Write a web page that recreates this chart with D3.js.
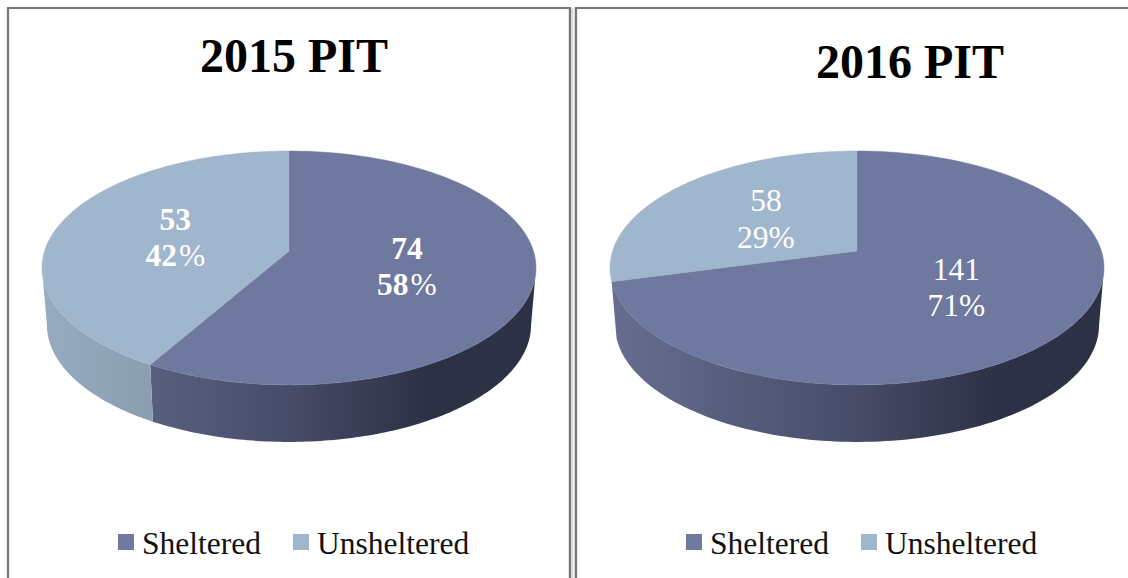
<!DOCTYPE html>
<html>
<head>
<meta charset="utf-8">
<script src="https://cdn.jsdelivr.net/npm/d3@7"></script>
<style>
  html, body { margin: 0; background: #fff; }
  svg { display: block; }
  text { font-family: "Liberation Serif", serif; }
</style>
</head>
<body>
<svg id="chart" width="1128" height="578"></svg>
<script>
// values
const categories = ['Sheltered', 'Unsheltered'];
const titles = ['2015 PIT', '2016 PIT'];
const values2015 = [74, 53];
const values2016 = [141, 58];
const percents2015 = [58, 42];
const percents2016 = [71, 29];

const topColors = ['#6f789f', '#9fb6cc'];
const wallStops = [
  ['#666e90', '#474c68', '#2d3145'],
  ['#96abbe', '#7a8e9e', '#5c6c78']
];

const svg = d3.select('#chart');
const defs = svg.append('defs');

// tilted disc: perspective projection of the unit circle
const k = 0.145, a = 114.5, b = 244.4, depth = 57, shrink = 0.98;
const labelR = 0.49;
// angle where the rim reaches its widest point, walls only show in front of it
const sideAngle = Math.acos(-k);

function project(cx, cy, angle, r, lower) {
  const u = r * Math.sin(angle), v = r * Math.cos(angle);
  const w = 1 + k * v;
  const s = lower ? shrink : 1;
  return [cx + s * b * u / w, cy - a * v / w + (lower ? depth : 0)];
}

function arcPoints(cx, cy, start, end, lower) {
  return d3.range(0, 121).map(i => {
    const t = start + (end - start) * i / 120;
    return project(cx, cy, t, 1, lower);
  });
}

const line = d3.line();
const pie = d3.pie().sort(null);

function frame(x0, x1, y0) {
  svg.append('path')
    .attr('d', `M${x0},578V${y0}H${x1}`)
    .attr('fill', 'none').attr('stroke', '#767676').attr('stroke-width', 2.2);
}

function drawChart(opts) {
  const { cx, cy, title, titleX, titleY, values, percents, bold, legendX, id } = opts;
  const g = svg.append('g');
  const arcs = pie(values);

  categories.forEach((c, i) => {
    const grad = defs.append('linearGradient')
      .attr('id', `wall${id}${i}`)
      .attr('gradientUnits', 'userSpaceOnUse')
      .attr('x1', cx - 247).attr('x2', cx + 247).attr('y1', 0).attr('y2', 0);
    grad.append('stop').attr('offset', '0').attr('stop-color', wallStops[i][0]);
    grad.append('stop').attr('offset', '0.5').attr('stop-color', wallStops[i][1]);
    grad.append('stop').attr('offset', '0.78').attr('stop-color', wallStops[i][2]);
    grad.append('stop').attr('offset', '1').attr('stop-color', wallStops[i][2]);
  });

  arcs.forEach((d, i) => {
    const start = Math.max(d.startAngle, sideAngle);
    const end = Math.min(d.endAngle, 2 * Math.PI - sideAngle);
    // a sliver this thin does not show in the picture
    if (end - start < 0.2) return;
    const upper = arcPoints(cx, cy, start, end, false);
    const lower = arcPoints(cx, cy, start, end, true).reverse();
    g.append('path')
      .attr('d', line(upper.concat(lower)) + 'Z')
      .attr('fill', `url(#wall${id}${i})`);
  });

  arcs.forEach((d, i) => {
    const rim = arcPoints(cx, cy, d.startAngle, d.endAngle, false);
    g.append('path')
      .attr('d', line([[cx, cy]].concat(rim)) + 'Z')
      .attr('fill', topColors[i])
      .attr('stroke', topColors[i]).attr('stroke-width', 0.5);
  });

  g.append('text').attr('x', titleX).attr('y', titleY)
    .attr('text-anchor', 'middle')
    .attr('font-size', 48).attr('font-weight', 700)
    .text(title);

  arcs.forEach((d, i) => {
    const mid = (d.startAngle + d.endAngle) / 2;
    const p = project(cx, cy, mid, labelR, false);
    const t = g.append('text')
      .attr('text-anchor', 'middle')
      .attr('fill', '#fff')
      .attr('font-size', 31.5)
      .attr('font-weight', bold ? 700 : 400);
    t.append('tspan').attr('x', p[0]).attr('y', p[1] - 7).text(d.data);
    t.append('tspan').attr('x', p[0]).attr('y', p[1] + 29.5).text(percents[i]);
    // the percent sign stays light in both charts
    t.append('tspan').attr('dx', bold ? 2 : 0).attr('font-weight', 400).text('%');
  });

  categories.forEach((c, i) => {
    g.append('rect')
      .attr('x', legendX[i]).attr('y', 534)
      .attr('width', 16).attr('height', 16)
      .attr('fill', topColors[i]);
    g.append('text')
      .attr('x', legendX[i] + 24).attr('y', 554)
      .attr('font-size', 31.5)
      .attr('fill', '#111')
      .text(c);
  });
}

frame(8, 571, 8);
frame(576, 1128, 8);
svg.append('path').attr('d', 'M570,8V578')
  .attr('stroke', '#767676').attr('stroke-width', 2.4);
svg.append('path').attr('d', 'M572.2,8V578M574.2,8V578')
  .attr('stroke', '#cccccc').attr('stroke-width', 1);

drawChart({
  id: 'a', cx: 289, cy: 251, title: titles[0], titleX: 294, titleY: 72,
  values: values2015, percents: percents2015, bold: true,
  legendX: [118, 293]
});
drawChart({
  id: 'b', cx: 857, cy: 251, title: titles[1], titleX: 910, titleY: 78,
  values: values2016, percents: percents2016, bold: false,
  legendX: [686, 861]
});
</script>
</body>
</html>
